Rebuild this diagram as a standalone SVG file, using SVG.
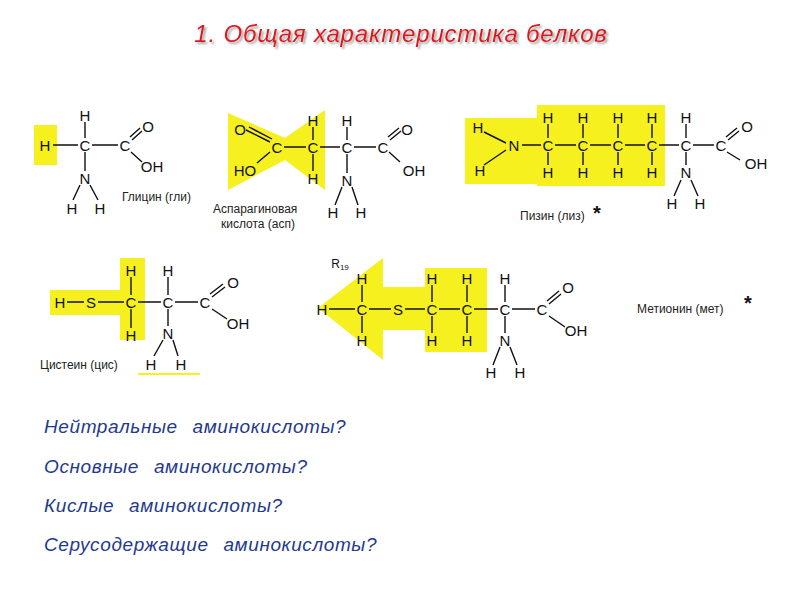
<svg xmlns="http://www.w3.org/2000/svg" width="800" height="600" viewBox="0 0 800 600">
<defs>
<filter id="sh" x="-5%" y="-30%" width="110%" height="160%"><feDropShadow dx="2" dy="2" stdDeviation="1" flood-color="#888" flood-opacity="0.8"/></filter>
</defs>
<style>
.a{font-family:"Liberation Sans",Arial,sans-serif;font-size:15px;fill:#111;text-anchor:middle;dominant-baseline:central}
.l{font-family:"Liberation Sans",Arial,sans-serif;font-size:12px;fill:#222}
.b{stroke:#111;stroke-width:1.4;fill:none}
.y{fill:#f5f01e}
.q{font-family:"Liberation Sans",Arial,sans-serif;font-style:italic;font-size:19px;fill:#1f3a8f;word-spacing:9px;letter-spacing:0.6px}
.t{font-family:"Liberation Sans",Arial,sans-serif;font-style:italic;font-size:24px;fill:#e0191e;letter-spacing:0.8px}
</style>
<rect width="800" height="600" fill="#fff"/>
<text class="t" x="401" y="42" text-anchor="middle" filter="url(#sh)">1. Общая характеристика белков</text>

<g id="glycine">
<rect class="y" x="34" y="125" width="23" height="40"/>
<path class="b" d="M53 145H78M92 145H118M85 122V138M85 152V171M80 185L73 200M90 185L98 200M132 140L142 131M130 137L140 128M131 152L142 162"/>
<text class="a" x="45" y="145">H</text><text class="a" x="85" y="145">C</text><text class="a" x="85" y="115">H</text>
<text class="a" x="125" y="145">C</text><text class="a" x="148" y="126">O</text><text class="a" x="152" y="166">OH</text>
<text class="a" x="85" y="178">N</text><text class="a" x="72" y="208">H</text><text class="a" x="100" y="208">H</text>
<text class="l" x="122" y="201">Глицин (гли)</text>
</g>

<g id="asp">
<polygon class="y" points="228,113 285,138 325,110 325,190 285,160 228,190"/>
<path class="b" d="M284 147H306M320 147H340M354 147H376M313 127V140M313 154V171M347 127V140M347 154V173M342 187L335 205M352 187L358 205M270 142L246 130M272 139L249 127M270 152L257 163M390 140L401 131M388 137L399 128M389 152L400 162"/>
<text class="a" x="240" y="129">O</text><text class="a" x="277" y="147">C</text><text class="a" x="245" y="170">HO</text>
<text class="a" x="313" y="147">C</text><text class="a" x="313" y="120">H</text><text class="a" x="313" y="178">H</text>
<text class="a" x="347" y="147">C</text><text class="a" x="347" y="120">H</text><text class="a" x="347" y="180">N</text>
<text class="a" x="333" y="212">H</text><text class="a" x="361" y="212">H</text>
<text class="a" x="383" y="147">C</text><text class="a" x="407" y="129">O</text><text class="a" x="414" y="170">OH</text>
<text class="l" x="213" y="213">Аспарагиновая</text><text class="l" x="221" y="228">кислота (асп)</text>
</g>

<g id="lysine">
<rect class="y" x="465" y="118" width="75" height="66"/>
<rect class="y" x="537" y="105" width="128" height="81"/>
<path class="b" d="M484 132L506 143M484 165L506 150M522 145H541M555 145H576M590 145H611M625 145H645M659 145H679M693 145H714M548 124V138M548 152V165M583 124V138M583 152V165M618 124V138M618 152V165M652 124V138M652 152V165M686 124V138M686 152V165M681 180L674 196M691 180L698 196M728 140L739 131M726 137L737 128M727 152L740 160"/>
<text class="a" x="478" y="127">H</text><text class="a" x="514" y="145">N</text><text class="a" x="480" y="170">H</text>
<text class="a" x="548" y="145">C</text><text class="a" x="583" y="145">C</text><text class="a" x="618" y="145">C</text><text class="a" x="652" y="145">C</text>
<text class="a" x="548" y="117">H</text><text class="a" x="583" y="117">H</text><text class="a" x="618" y="117">H</text><text class="a" x="652" y="117">H</text>
<text class="a" x="548" y="172">H</text><text class="a" x="583" y="172">H</text><text class="a" x="618" y="172">H</text><text class="a" x="652" y="172">H</text>
<text class="a" x="686" y="145">C</text><text class="a" x="686" y="117">H</text><text class="a" x="686" y="172">N</text>
<text class="a" x="672" y="203">H</text><text class="a" x="700" y="203">H</text>
<text class="a" x="721" y="145">C</text><text class="a" x="747" y="126">O</text><text class="a" x="756" y="163">OH</text>
<text class="l" x="520" y="220">Пизин (лиз)</text><text class="a" x="597" y="213" style="font-size:20px;font-weight:bold">*</text>
</g>

<g id="cysteine">
<rect class="y" x="50" y="290" width="95" height="25"/>
<rect class="y" x="120" y="258" width="25" height="82"/>
<rect class="y" x="138" y="373" width="62" height="2"/>
<path class="b" d="M67 302H84M98 302H124M138 302H161M175 302H198M131 277V295M131 309V328M168 277V295M168 309V326M163 340L154 356M173 340L178 356M212 297L225 287M210 294L223 284M212 309L227 319"/>
<text class="a" x="60" y="302">H</text><text class="a" x="91" y="302">S</text><text class="a" x="131" y="302">C</text>
<text class="a" x="131" y="270">H</text><text class="a" x="131" y="335">H</text>
<text class="a" x="168" y="302">C</text><text class="a" x="168" y="270">H</text><text class="a" x="168" y="333">N</text>
<text class="a" x="151" y="364">H</text><text class="a" x="181" y="364">H</text>
<text class="a" x="205" y="302">C</text><text class="a" x="233" y="282">O</text><text class="a" x="238" y="323">OH</text>
<text class="l" x="40" y="369">Цистеин (цис)</text>
</g>

<g id="methionine">
<polygon class="y" points="318,308 383,258 383,287 425,287 425,268 487,268 487,352 425,352 425,330 383,330 383,360"/>
<path class="b" d="M329 309H355M369 309H391M405 309H425M439 309H460M474 309H498M512 309H535M362 285V302M362 316V333M432 285V302M432 316V333M467 285V302M467 316V333M505 285V302M505 316V333M500 347L493 365M510 347L517 365M549 304L561 294M547 301L559 291M549 316L565 327"/>
<text class="a" x="340" y="264" style="font-size:12px">R<tspan style="font-size:8px" dy="3">19</tspan></text>
<text class="a" x="322" y="309">H</text><text class="a" x="362" y="309">C</text><text class="a" x="362" y="278">H</text><text class="a" x="362" y="340">H</text>
<text class="a" x="398" y="309">S</text>
<text class="a" x="432" y="309">C</text><text class="a" x="432" y="278">H</text><text class="a" x="432" y="340">H</text>
<text class="a" x="467" y="309">C</text><text class="a" x="467" y="278">H</text><text class="a" x="467" y="340">H</text>
<text class="a" x="505" y="309">C</text><text class="a" x="505" y="278">H</text><text class="a" x="505" y="340">N</text>
<text class="a" x="491" y="372">H</text><text class="a" x="520" y="372">H</text>
<text class="a" x="542" y="309">C</text><text class="a" x="568" y="287">O</text><text class="a" x="576" y="330">OH</text>
<text class="l" x="637" y="313">Метионин (мет)</text><text class="a" x="748" y="303" style="font-size:20px;font-weight:bold">*</text>
</g>

<text class="q" x="44" y="433">Нейтральные аминокислоты?</text>
<text class="q" x="44" y="473">Основные аминокислоты?</text>
<text class="q" x="44" y="512">Кислые аминокислоты?</text>
<text class="q" x="44" y="551">Серусодержащие аминокислоты?</text>
</svg>
